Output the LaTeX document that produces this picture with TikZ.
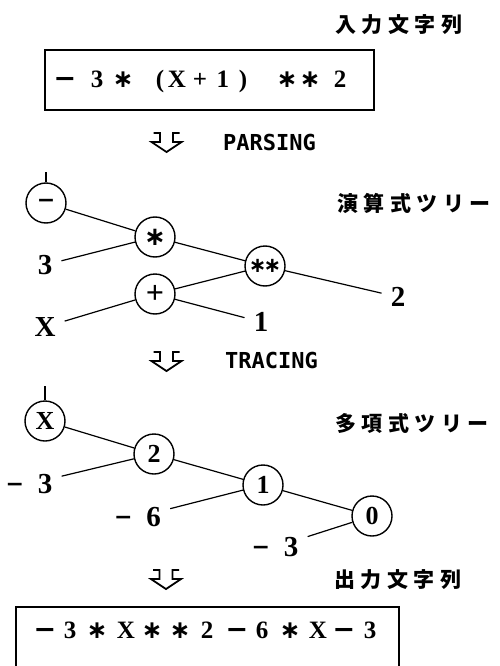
\documentclass[tikz,border=0pt]{standalone}
\usepackage{fontspec}
\setmainfont{Liberation Serif}
\newfontfamily\dvfont{DejaVu Sans}
\newfontfamily\jpfont{Noto Sans CJK JP}
\newfontfamily\monofont{DejaVu Sans Mono}
\newcommand\bmn{{\dvfont\fontsize{27}{27}\selectfont −}}
\newcommand\lmn{\raisebox{2pt}{\dvfont\fontsize{22}{22}\selectfont −}}
\newcommand\cmn{{\dvfont\fontsize{22}{22}\selectfont −}}
\newcommand\bst{{\dvfont\bfseries ∗}}
\newcommand\ch[1]{\makebox[0pt]{#1}}
\newcommand\gp[1]{\hspace*{#1pt}}
\newcommand\jsp{\hspace{5.5pt}}
\newcommand\harrow[2]{\draw[line width=1.8pt, line join=miter, shift={(#1,#2)}]
     (-13,0) -- (-6.5,0) -- (-6.5,9) -- (-15,9) -- (0,19) -- (15,9) -- (6.5,9) -- (6.5,0) -- (13,0);}
\tikzset{
  cnode/.style={circle, draw, line width=1.4pt, minimum size=40pt, inner sep=0pt,
    font=\fontsize{26}{26}\selectfont\bfseries},
  lbl/.style={inner xsep=9pt, inner ysep=2pt, font=\fontsize{29}{29}\selectfont\bfseries},
  edge/.style={line width=1.2pt},
  jtxt/.style={font=\jpfont\bfseries\fontsize{21}{21}\selectfont, inner sep=0pt},
  mtxt/.style={font=\monofont\bfseries\fontsize{22}{22}\selectfont, inner sep=0pt, anchor=west},
  textbox/.style={draw, line width=1.4pt, inner sep=0pt, font=\fontsize{25}{25}\selectfont\bfseries}
}
\begin{document}
\begin{tikzpicture}[x=1pt, y=-1pt]
\useasboundingbox (0,0) rectangle (499,666);

% input string
\node[jtxt] (jin) at (399,25) {入\jsp{}力\jsp{}文\jsp{}字\jsp{}列};
\node[textbox, minimum width=329pt, minimum height=60pt, text height=16pt, text depth=0pt] (inbox) at (209.5,80)
  {\makebox[329pt][l]{\gp{20}\ch{\bmn}\gp{32}\ch{3}\gp{26}\ch{\bst}\gp{37}\ch{(}\gp{17}\ch{X}\gp{23}\ch{+}\gp{23}\ch{1}\gp{20}\ch{)}\gp{44}\ch{\bst}\gp{23}\ch{\bst}\gp{30}\ch{2}\hfill}};

% parsing
\harrow{166.5}{133}
\node[mtxt] (parsing) at (223,142) {PARSING};

% expression tree
\coordinate (top1) at (46,172);
\node[cnode] (neg) at (46,203) {\cmn};
\node[cnode] (mul) at (155,237) {\bst};
\node[cnode] (pow) at (265,266) {{\dvfont\bfseries\fontsize{21}{21}\selectfont ∗\kern-3pt∗}};
\node[cnode] (plus) at (155,294) {{\fontsize{32}{32}\selectfont +}};
\node[lbl] (a3) at (45,265) {3};
\node[lbl] (ax) at (45,327) {X};
\node[lbl] (a1) at (261,322) {1};
\node[lbl] (a2) at (398,297) {2};
\node[jtxt] (jexp) at (414,203) {演\jsp{}算\jsp{}式\jsp{}ツ\jsp{}リ\jsp{}ー};
\draw[edge] (top1) -- (neg);
\draw[edge] (neg) -- (mul);
\draw[edge] (a3) -- (mul);
\draw[edge] (mul) -- (pow);
\draw[edge] (plus) -- (pow);
\draw[edge] (pow) -- (a2);
\draw[edge] (ax) -- (plus);
\draw[edge] (plus) -- (a1);

% tracing
\harrow{166.5}{352}
\node[mtxt] (tracing) at (225,360) {TRACING};

% polynomial tree
\coordinate (top2) at (45,386);
\node[cnode] (px) at (45,421) {X};
\node[cnode] (p2) at (154,454) {2};
\node[cnode] (p1) at (263,485) {1};
\node[cnode] (p0) at (372,516) {0};
\node[lbl] (b3) at (29,484) {\lmn\hspace{14pt}3};
\node[lbl] (b6) at (137.5,517) {\lmn\hspace{14pt}6};
\node[lbl] (c3) at (275,547) {\lmn\hspace{14pt}3};
\node[jtxt] (jpoly) at (412,423) {多\jsp{}項\jsp{}式\jsp{}ツ\jsp{}リ\jsp{}ー};
\draw[edge] (top2) -- (px);
\draw[edge] (px) -- (p2);
\draw[edge] (b3) -- (p2);
\draw[edge] (p2) -- (p1);
\draw[edge] (b6) -- (p1);
\draw[edge] (p1) -- (p0);
\draw[edge] (c3) -- (p0);

% output
\harrow{166}{570}
\node[jtxt] (jout) at (398,580) {出\jsp{}力\jsp{}文\jsp{}字\jsp{}列};
\node[textbox, minimum width=383pt, minimum height=73pt, text height=2pt, text depth=13pt] (outbox) at (207.5,643.5)
  {\makebox[383pt][l]{\gp{29}\ch{\bmn}\gp{25}\ch{3}\gp{27}\ch{\bst}\gp{29}\ch{X}\gp{26}\ch{\bst}\gp{28}\ch{\bst}\gp{27}\ch{2}\gp{30}\ch{\bmn}\gp{25}\ch{6}\gp{28}\ch{\bst}\gp{28}\ch{X}\gp{26}\ch{\bmn}\gp{26}\ch{3}\hfill}};
\end{tikzpicture}
\end{document}
